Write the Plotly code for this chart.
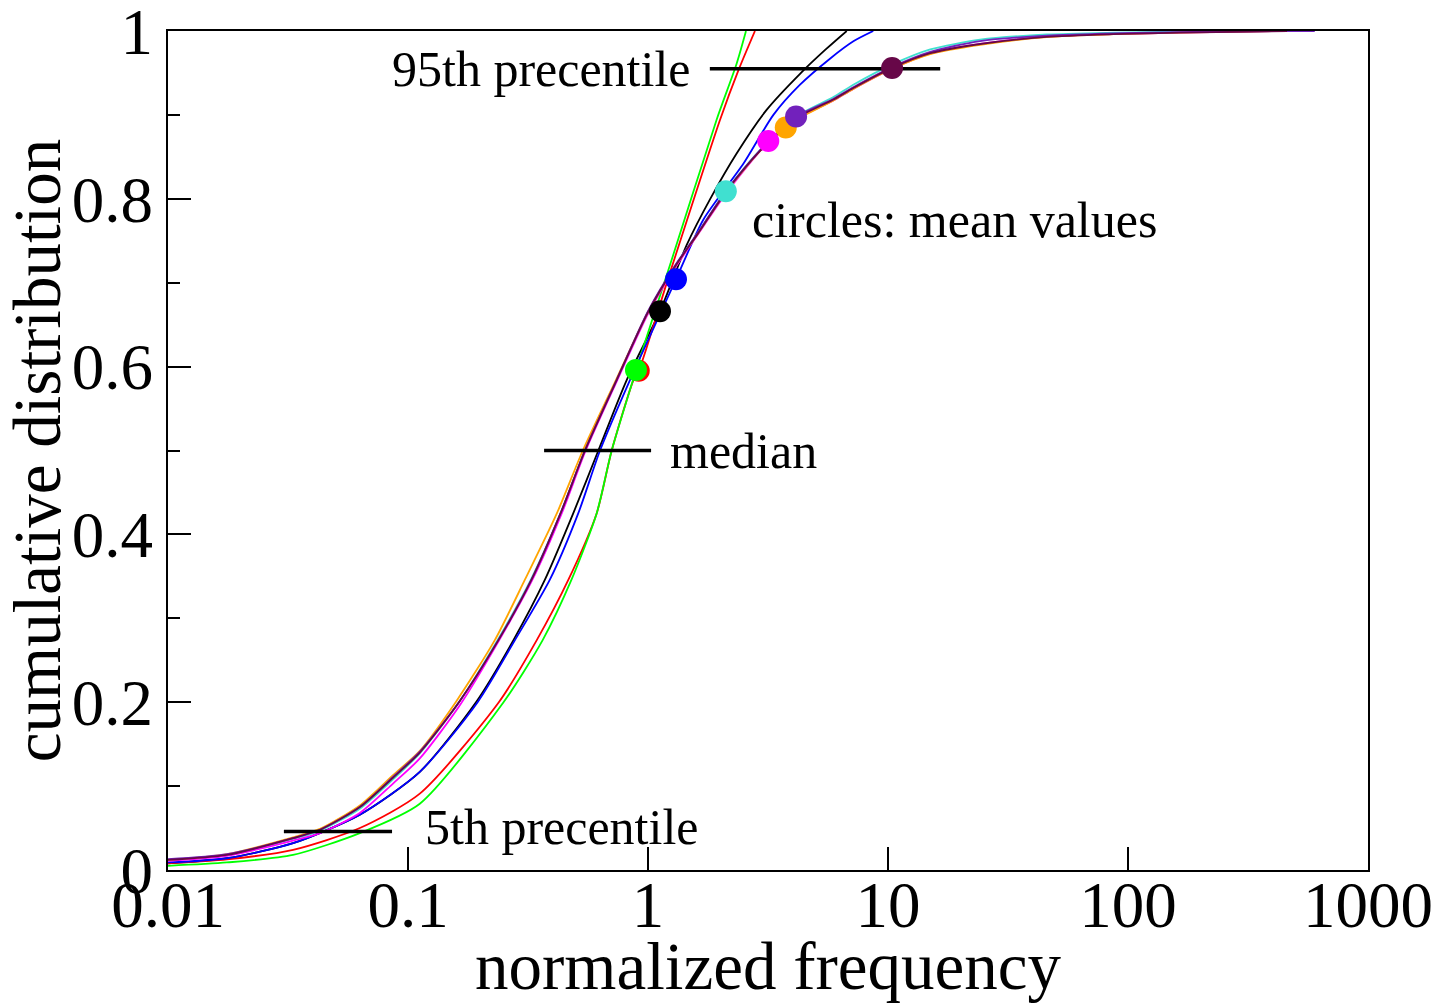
import math
import plotly.graph_objects as go

# ---------------- data ----------------
series_names = ["black", "red", "green", "blue", "turquoise", "magenta", "orange", "indigo", "maroon"]
series_colors = ["#000000", "#ff0000", "#00ff00", "#0000ff", "#40e0d0", "#ff00ff", "#ffa500", "#7221bc", "#670748"]

black_x = [0.01, 0.0176, 0.0332, 0.063, 0.112, 0.192, 0.275, 0.372, 0.488, 0.621, 0.815, 1.122, 1.45, 1.81, 2.34, 3.12, 4.3, 5.5, 6.73]
black_y = [0.008, 0.014, 0.032, 0.066, 0.117, 0.2, 0.274, 0.346, 0.425, 0.5, 0.584, 0.666, 0.745, 0.799, 0.854, 0.906, 0.949, 0.978, 1.0]

red_x = [0.01, 0.0176, 0.0332, 0.063, 0.112, 0.239, 0.344, 0.466, 0.611, 0.706, 0.87, 0.915, 1.235, 1.995, 2.38, 2.79]
red_y = [0.008, 0.0127, 0.024, 0.050, 0.091, 0.2, 0.274, 0.346, 0.425, 0.5, 0.584, 0.595, 0.712, 0.894, 0.953, 1.0]

green_x = [0.01, 0.0176, 0.0332, 0.063, 0.112, 0.25, 0.364, 0.48, 0.611, 0.706, 0.866, 0.891, 1.235, 1.93, 2.34, 2.56]
green_y = [0.005, 0.009, 0.018, 0.044, 0.079, 0.2, 0.274, 0.346, 0.425, 0.5, 0.584, 0.596, 0.721, 0.894, 0.961, 1.0]

blue_x = [0.01, 0.0176, 0.0332, 0.063, 0.112, 0.195, 0.279, 0.39, 0.512, 0.631, 0.841, 1.308, 1.70, 2.50, 3.33, 4.3, 5.73, 7.2, 8.68]
blue_y = [0.009, 0.014, 0.032, 0.066, 0.117, 0.2, 0.274, 0.346, 0.425, 0.5, 0.584, 0.704, 0.775, 0.842, 0.900, 0.936, 0.967, 0.988, 1.0]

turquoise_x = [0.01, 0.0176, 0.0332, 0.043, 0.063, 0.0866, 0.112, 0.163, 0.236, 0.325, 0.432, 0.546, 0.74, 1.0, 1.3, 1.6, 2.11, 2.93, 4.14, 5.9, 7.17, 10.4, 15.0, 24.2, 45.8, 86.9, 165, 300]
turquoise_y = [0.012, 0.018, 0.037, 0.047, 0.073, 0.108, 0.139, 0.2, 0.274, 0.346, 0.425, 0.5, 0.584, 0.665, 0.72, 0.758, 0.809, 0.858, 0.898, 0.921, 0.936, 0.96, 0.978, 0.9897, 0.9958, 0.998, 0.9993, 1.0]

magenta_x = [0.01, 0.0176, 0.0332, 0.043, 0.063, 0.0866, 0.112, 0.165, 0.24, 0.33, 0.437, 0.55, 0.745, 1.0, 1.3, 1.6, 2.11, 2.93, 3.17, 4.14, 5.9, 7.17, 10.4, 15.0, 24.2, 45.8, 86.9, 165, 400]
magenta_y = [0.011, 0.017, 0.035, 0.044, 0.068, 0.103, 0.133, 0.197, 0.274, 0.346, 0.425, 0.5, 0.584, 0.663, 0.718, 0.756, 0.806, 0.857, 0.868, 0.895, 0.917, 0.931, 0.955, 0.973, 0.9845, 0.9932, 0.9964, 0.998, 1.0]

orange_x = [0.01, 0.0176, 0.0332, 0.043, 0.063, 0.0866, 0.112, 0.158, 0.23, 0.307, 0.417, 0.535, 0.735, 1.0, 1.3, 1.6, 2.11, 2.93, 3.75, 4.14, 5.9, 7.17, 10.4, 15.0, 24.2, 45.8, 86.9, 165, 400]
orange_y = [0.012, 0.019, 0.039, 0.049, 0.077, 0.113, 0.142, 0.2, 0.274, 0.346, 0.425, 0.5, 0.584, 0.665, 0.72, 0.757, 0.808, 0.857, 0.885, 0.894, 0.917, 0.931, 0.955, 0.9725, 0.9835, 0.9928, 0.9962, 0.998, 1.0]

indigo_x = [0.01, 0.0176, 0.0332, 0.043, 0.063, 0.0866, 0.112, 0.163, 0.238, 0.327, 0.432, 0.546, 0.74, 1.0, 1.3, 1.6, 2.11, 2.93, 3.17, 4.14, 5.9, 7.17, 10.4, 15.0, 24.2, 45.8, 86.9, 165, 300, 600]
indigo_y = [0.013, 0.019, 0.038, 0.048, 0.075, 0.111, 0.141, 0.2, 0.274, 0.346, 0.425, 0.5, 0.584, 0.666, 0.721, 0.758, 0.809, 0.858, 0.867, 0.898, 0.919, 0.933, 0.957, 0.975, 0.988, 0.9945, 0.9972, 0.9987, 0.9996, 1.0]

maroon_x = [0.01, 0.0176, 0.0332, 0.043, 0.063, 0.0866, 0.112, 0.163, 0.238, 0.327, 0.432, 0.546, 0.74, 1.0, 1.3, 1.6, 2.11, 2.93, 4.14, 5.9, 7.17, 10.4, 15.0, 24.2, 45.8, 86.9, 165, 460]
maroon_y = [0.012, 0.018, 0.038, 0.048, 0.075, 0.11, 0.14, 0.2, 0.274, 0.346, 0.425, 0.5, 0.584, 0.665, 0.72, 0.757, 0.808, 0.857, 0.896, 0.918, 0.932, 0.956, 0.9735, 0.9845, 0.993, 0.9962, 0.998, 1.0]

# mean values (circles): x = mean, y = cumulative distribution at the mean
mean_x = [1.122, 0.915, 0.891, 1.308, 2.11, 3.17, 3.75, 4.14, 10.4]
mean_y = [0.666, 0.595, 0.596, 0.704, 0.809, 0.869, 0.885, 0.898, 0.956]
mean_draw_order = ["black", "red", "green", "blue", "turquoise", "orange", "magenta", "indigo", "maroon"]

# percentile bars
p05_x = [0.0304, 0.0858]
p05_y = [0.046, 0.046]
median_x = [0.369, 1.03]
median_y = [0.5, 0.5]
p95_x = [1.81, 16.5]
p95_y = [0.955, 0.955]

x_tickvals = [0.01, 0.1, 1, 10, 100, 1000]
x_ticktext = ["0.01", "0.1", "1", "10", "100", "1000"]
y_tickvals = [0, 0.2, 0.4, 0.6, 0.8, 1.0]
y_ticktext = ["0", "0.2", "0.4", "0.6", "0.8", "1"]

# ---------------- figure ----------------
curves = {
    "black": (black_x, black_y), "red": (red_x, red_y), "green": (green_x, green_y),
    "blue": (blue_x, blue_y), "turquoise": (turquoise_x, turquoise_y),
    "magenta": (magenta_x, magenta_y), "orange": (orange_x, orange_y),
    "indigo": (indigo_x, indigo_y), "maroon": (maroon_x, maroon_y),
}
color_of = dict(zip(series_names, series_colors))

fig = go.Figure()
for name in series_names:
    xs, ys = curves[name]
    fig.add_trace(go.Scatter(x=xs, y=ys, mode="lines", name=name,
                             line=dict(color=color_of[name], width=1.8, shape="spline", smoothing=0.7),
                             showlegend=False, hoverinfo="skip", cliponaxis=True))

for xs, ys in [(p05_x, p05_y), (median_x, median_y), (p95_x, p95_y)]:
    fig.add_trace(go.Scatter(x=xs, y=ys, mode="lines", line=dict(color="black", width=3.5),
                             showlegend=False, hoverinfo="skip"))

mean_of = {n: (mx, my) for n, mx, my in zip(series_names, mean_x, mean_y)}
for name in mean_draw_order:
    mx, my = mean_of[name]
    fig.add_trace(go.Scatter(x=[mx], y=[my], mode="markers",
                             marker=dict(color=color_of[name], size=22, line=dict(width=0)),
                             showlegend=False, hoverinfo="skip"))

font_family = "Liberation Serif, Times New Roman, serif"
ann_font = dict(family=font_family, size=50, color="black")
fig.add_annotation(x=math.log10(1.54), y=0.955, text="95th precentile", showarrow=False,
                   xanchor="right", yanchor="middle", font=ann_font)
fig.add_annotation(x=math.log10(2.66), y=0.775, text="circles: mean values", showarrow=False,
                   xanchor="left", yanchor="middle", font=ann_font)
fig.add_annotation(x=math.log10(1.21), y=0.5, text="median", showarrow=False,
                   xanchor="left", yanchor="middle", font=ann_font)
fig.add_annotation(x=math.log10(0.1155), y=0.051, text="5th precentile", showarrow=False,
                   xanchor="left", yanchor="middle", font=ann_font)

axis_common = dict(showline=True, linecolor="black", linewidth=2, mirror=True,
                   showgrid=False, zeroline=False, ticks="inside", tickcolor="black",
                   tickwidth=2, ticklen=23, automargin=False, ticklabeloverflow="allow",
                   tickfont=dict(family=font_family, size=65, color="black"))

fig.update_xaxes(type="log", range=[-2, 3], tickvals=x_tickvals, ticktext=x_ticktext,
                 ticklabelstandoff=-23,
                 title=dict(text="normalized frequency", font=dict(family=font_family, size=67, color="black"),
                            standoff=0),
                 **axis_common)
fig.update_yaxes(range=[0, 1], tickvals=y_tickvals, ticktext=y_ticktext,
                 minor=dict(tickvals=[0.1, 0.3, 0.5, 0.7, 0.9], ticks="inside", ticklen=12,
                            tickwidth=2, tickcolor="black"),
                 title=dict(text="cumulative distribution", font=dict(family=font_family, size=67, color="black"),
                            standoff=0),
                 **axis_common)

fig.update_layout(width=1440, height=1003, margin=dict(l=168, r=72, t=31, b=133),
                  paper_bgcolor="white", plot_bgcolor="white", showlegend=False)

fig.write_html("out.html")
